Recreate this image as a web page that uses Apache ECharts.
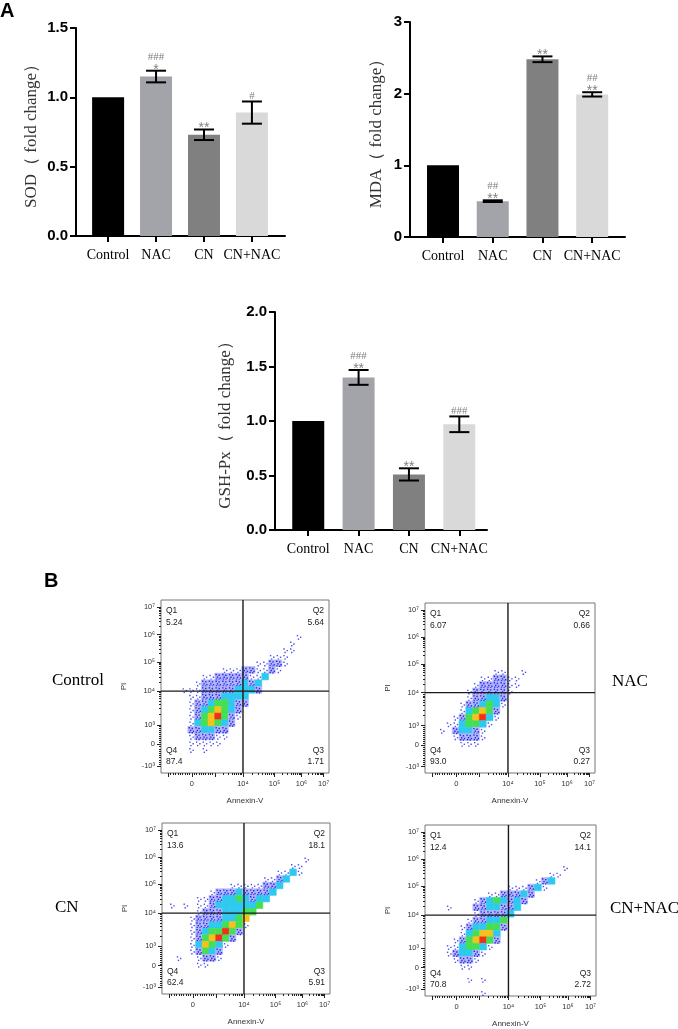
<!DOCTYPE html>
<html>
<head>
<meta charset="utf-8">
<script src="https://cdn.jsdelivr.net/npm/echarts@6/dist/echarts.min.js"></script>
<style>
  html, body { margin: 0; padding: 0; background: #fff; }
  #main { width: 678px; height: 1029px; }
</style>
</head>
<body>
<div id="main"></div>
<script>
// ---- panel A: bar charts ----
var groups = ['Control', 'NAC', 'CN', 'CN+NAC'];
var barColors = ['#000000', '#a3a3aa', '#808080', '#d9d9d9'];

var sodMean = [1.0, 1.15, 0.73, 0.89];
var sodErr = [0, 0.042, 0.038, 0.08];
var sodStar = ['', '*', '**', ''];
var sodHash = ['', '###', '', '#'];

var mdaMean = [1.0, 0.5, 2.48, 1.99];
var mdaErr = [0, 0.012, 0.04, 0.03];
var mdaStar = ['', '**', '**', '**'];
var mdaHash = ['', '##', '', '##'];

var gshMean = [1.0, 1.40, 0.51, 0.97];
var gshErr = [0, 0.068, 0.056, 0.072];
var gshStar = ['', '**', '**', ''];
var gshHash = ['', '###', '', '###'];

// ---- panel B: flow cytometry (Annexin-V / PI) ----
// display positions of -10^3, 0, 10^3, 10^4, 10^5, 10^6, 10^7 on the biex axes
var flowXPos = [1.1, 4.6, 8.0, 12.2, 16.9, 20.9, 24.2];
var flowYPos = [1.0, 4.3, 7.25, 12.3, 16.7, 20.8, 24.9];
var flowTickText = ['-10³', '0', '10³', '10⁴', '10⁵', '10⁶', '10⁷'];
var flowXShown = [1, 3, 4, 5, 6];

var quadNames = ['Q1', 'Q2', 'Q3', 'Q4'];
var quadControl = ['5.24', '5.64', '1.71', '87.4'];
var quadNac = ['6.07', '0.66', '0.27', '93.0'];
var quadCn = ['13.6', '18.1', '5.91', '62.4'];
var quadCnNac = ['12.4', '14.1', '2.72', '70.8'];

// density, rows top -> bottom, 0 = empty ... 6 = peak
var densityColors = ['', '#4a4ef0', '#b3b5f8', '#2fc9f0', '#44df52', '#f5c21b', '#f2301a'];

var densControl = [
  '.........................',
  '.........................',
  '.........................',
  '.........................',
  '.........................',
  '....................1....',
  '...................1.....',
  '..................11.....',
  '................111......',
  '..............11221......',
  '.........111221121.......',
  '......1122222113.........',
  '.....1222222323..........',
  '...111222223332..........',
  '....112223333............',
  '....122344322............',
  '....12345432.............',
  '....12456421.............',
  '....1345432..............',
  '....223322...............',
  '....122211...............',
  '....11111................',
  '....1.1..................',
  '.........................',
  '.........................',
  '.........................'
];
var densNac = [
  '.........................',
  '.........................',
  '.........................',
  '.........................',
  '.........................',
  '.........................',
  '.........................',
  '.........................',
  '.........................',
  '.........................',
  '..........11..1..........',
  '........112211...........',
  '.......1222211...........',
  '......1222221............',
  '......122332.............',
  '.....1223431.............',
  '.....134542..............',
  '....1245631..............',
  '...1134431...............',
  '..1.23321................',
  '....12221................',
  '.....111.................',
  '.........................',
  '.........................',
  '.........................',
  '.........................'
];
var densCn = [
  '.........................',
  '.........................',
  '.........................',
  '.........................',
  '.........................',
  '.....................1...',
  '...................11....',
  '.................1131....',
  '...............1123......',
  '..........11111223.......',
  '.......1222322223........',
  '.....11223343233.........',
  '.1.1.1123333334..........',
  '.....122233344...........',
  '....122223345............',
  '....122334541............',
  '....12344642.............',
  '....1245642..............',
  '....135431...............',
  '....12432................',
  '..1..1221................',
  '.....11..................',
  '.........................',
  '.........................',
  '.........................',
  '.........................'
];
var densCnNac = [
  '.........................',
  '.........................',
  '.........................',
  '.........................',
  '.........................',
  '.........................',
  '....................1....',
  '..................11.....',
  '................123......',
  '............111231.......',
  '.........1122232.........',
  '.......12343232..........',
  '...1...2233223...........',
  '.......122223............',
  '......122334.............',
  '.....1233442.............',
  '.....134553..............',
  '....1245642..............',
  '...1134431...............',
  '...123321................',
  '....1221.................',
  '.....11..................',
  '.........................',
  '......1.1................',
  '.........................',
  '........1................'
];

var option = {
  animation: false,
  backgroundColor: '#fff',
  grid: [], xAxis: [], yAxis: [], series: [], graphic: []
};

function addBarPanel(box, mean, err, star, hash, yMax, yStep, xRange, yName, nameGap, digits) {
  var gi = option.grid.length;
  var ai = option.xAxis.length;
  option.grid.push({ left: box[0], top: box[1], width: box[2], height: box[3] });
  option.xAxis.push({
    type: 'value', gridIndex: gi, min: xRange[0], max: xRange[1],
    splitLine: { show: false },
    axisLine: { show: true, onZero: false, lineStyle: { color: '#000', width: 2 } },
    axisTick: { show: true, customValues: [1, 2, 3, 4], length: 6, lineStyle: { color: '#000', width: 2 } },
    axisLabel: {
      customValues: [1, 2, 3, 4],
      formatter: function (v) { return groups[Math.round(v) - 1]; },
      fontFamily: 'Liberation Serif', fontSize: 14, color: '#000', margin: 12
    }
  });
  option.yAxis.push({
    type: 'value', gridIndex: gi, min: 0, max: yMax, interval: yStep,
    splitLine: { show: false },
    axisLine: { show: true, lineStyle: { color: '#000', width: 2 } },
    axisTick: { show: true, length: 6, lineStyle: { color: '#000', width: 2 } },
    axisLabel: {
      formatter: function (v) { return v.toFixed(digits); },
      fontFamily: 'Liberation Sans', fontWeight: 'bold', fontSize: 15, color: '#000', margin: 8
    },
    name: yName, nameLocation: 'middle', nameGap: nameGap,
    nameTextStyle: { fontFamily: 'Liberation Serif', fontSize: 17, color: '#333' }
  });
  option.series.push({
    type: 'bar', xAxisIndex: ai, yAxisIndex: ai, barWidth: 32,
    data: mean.map(function (v, i) {
      return { value: [i + 1, v], itemStyle: { color: barColors[i] } };
    })
  });
  var errData = [];
  mean.forEach(function (v, i) {
    errData.push([i + 1, v - err[i], v + err[i], i]);
  });
  option.series.push({
    type: 'custom', xAxisIndex: ai, yAxisIndex: ai, z: 5,
    data: errData,
    renderItem: function (params, api) {
      var i = api.value(3);
      var x = api.value(0);
      var hi = api.coord([x, api.value(2)]);
      var lo = api.coord([x, api.value(1)]);
      var kids = [];
      var st = { stroke: '#000', lineWidth: 2 };
      if (err[i] > 0) {
        kids.push({ type: 'line', shape: { x1: hi[0], y1: hi[1], x2: lo[0], y2: lo[1] }, style: st });
        kids.push({ type: 'line', shape: { x1: hi[0] - 10, y1: hi[1], x2: hi[0] + 10, y2: hi[1] }, style: st });
        kids.push({ type: 'line', shape: { x1: lo[0] - 10, y1: lo[1], x2: lo[0] + 10, y2: lo[1] }, style: st });
      }
      var yy = hi[1];
      if (star[i]) {
        kids.push({ type: 'text', style: {
          text: star[i], x: hi[0], y: yy - 1, align: 'center', verticalAlign: 'middle',
          fontFamily: 'Liberation Sans', fontSize: 14, fill: '#808080'
        } });
        yy -= 9;
      }
      if (hash[i]) {
        kids.push({ type: 'text', style: {
          text: hash[i], x: hi[0], y: yy - 5, align: 'center', verticalAlign: 'middle',
          fontFamily: 'Liberation Serif', fontSize: 11, fill: '#808080'
        } });
      }
      return { type: 'group', children: kids };
    }
  });
}

function minorTicks(pos) {
  var out = [];
  for (var s = 0; s < 2; s++) {
    for (var j = 1; j < 10; j++) out.push(pos[s] + (pos[s + 1] - pos[s]) * j / 10);
  }
  for (var d = 2; d < pos.length - 1; d++) {
    for (var k = 2; k < 10; k++) out.push(pos[d] + (pos[d + 1] - pos[d]) * Math.log10(k));
  }
  return out;
}

function tickName(pos, v) {
  var best = 0;
  for (var i = 1; i < pos.length; i++) {
    if (Math.abs(pos[i] - v) < Math.abs(pos[best] - v)) best = i;
  }
  return flowTickText[best];
}

// low-density cells are drawn as single events rather than a filled block
var sparseDots = [[0.2, 0.25], [0.68, 0.5], [0.35, 0.78]];
var blueDots = [[0.1, 0.1], [0.55, 0.2], [0.3, 0.5], [0.75, 0.62], [0.15, 0.8], [0.55, 0.85]];

function dotGroup(p0, w, h, pts, col, bg) {
  var kids = [];
  if (bg) kids.push({ type: 'rect', shape: { x: p0[0], y: p0[1], width: w, height: h }, style: { fill: bg, stroke: bg, lineWidth: 0.6 } });
  pts.forEach(function (d) {
    kids.push({ type: 'rect', shape: { x: p0[0] + d[0] * w, y: p0[1] + d[1] * h, width: 1.4, height: 1.4 }, style: { fill: col } });
  });
  return { type: 'group', children: kids };
}

function addFlowPanel(box, rows, quad) {
  var gi = option.grid.length;
  var ai = option.xAxis.length;
  var nRows = rows.length;
  option.grid.push({
    left: box[0], top: box[1], width: box[2], height: box[3],
    show: true, borderColor: '#777', borderWidth: 1
  });
  var tickFont = { fontFamily: 'Liberation Sans', fontSize: 7.5, color: '#333' };
  option.xAxis.push({
    type: 'value', gridIndex: gi, min: 0, max: 25, position: 'bottom',
    splitLine: { show: false }, axisLine: { show: false },
    axisTick: { show: true, customValues: flowXPos, length: 4, lineStyle: { color: '#222', width: 1 } },
    axisLabel: Object.assign({
      customValues: flowXShown.map(function (i) { return flowXPos[i]; }),
      formatter: function (v) { return tickName(flowXPos, v); }, margin: 7
    }, tickFont),
    name: 'Annexin-V', nameLocation: 'middle', nameGap: 24,
    nameTextStyle: { fontFamily: 'Liberation Sans', fontSize: 8, color: '#333' }
  });
  option.xAxis.push({
    type: 'value', gridIndex: gi, min: 0, max: 25, position: 'bottom',
    splitLine: { show: false }, axisLine: { show: false }, axisLabel: { show: false },
    axisTick: { show: true, customValues: minorTicks(flowXPos), length: 2, lineStyle: { color: '#222', width: 1 } }
  });
  option.yAxis.push({
    type: 'value', gridIndex: gi, min: 0, max: nRows, position: 'left',
    splitLine: { show: false }, axisLine: { show: false },
    axisTick: { show: true, customValues: flowYPos, length: 4, lineStyle: { color: '#222', width: 1 } },
    axisLabel: Object.assign({
      customValues: flowYPos,
      formatter: function (v) { return tickName(flowYPos, v); }, margin: 6
    }, tickFont),
    name: 'PI', nameLocation: 'middle', nameGap: 33,
    nameTextStyle: { fontFamily: 'Liberation Sans', fontSize: 8, color: '#333' }
  });
  option.yAxis.push({
    type: 'value', gridIndex: gi, min: 0, max: nRows, position: 'left',
    splitLine: { show: false }, axisLine: { show: false }, axisLabel: { show: false },
    axisTick: { show: true, customValues: minorTicks(flowYPos), length: 2, lineStyle: { color: '#222', width: 1 } }
  });

  var cells = [];
  rows.forEach(function (row, r) {
    for (var c = 0; c < row.length; c++) {
      var lv = row.charAt(c);
      if (lv !== '.') cells.push([c, nRows - 1 - r, +lv]);
    }
  });
  option.series.push({
    type: 'custom', xAxisIndex: ai, yAxisIndex: ai, clip: true, z: 2,
    data: cells,
    renderItem: function (params, api) {
      var p0 = api.coord([api.value(0), api.value(1) + 1]);
      var p1 = api.coord([api.value(0) + 1, api.value(1)]);
      var w = p1[0] - p0[0], h = p1[1] - p0[1];
      var lv = api.value(2);
      var col = densityColors[lv];
      if (lv === 1) return dotGroup(p0, w, h, sparseDots, col, null);
      if (lv === 2) return dotGroup(p0, w, h, blueDots, '#1f24ee', col);
      return {
        type: 'rect',
        shape: { x: p0[0], y: p0[1], width: w, height: h },
        style: { fill: col, stroke: col, lineWidth: 0.6 }
      };
    }
  });
  // quadrant gates and percentages
  option.series.push({
    type: 'custom', xAxisIndex: ai, yAxisIndex: ai, z: 4,
    data: [[flowXPos[3], flowYPos[3]]],
    renderItem: function (params, api) {
      var cs = params.coordSys;
      var p = api.coord([api.value(0), api.value(1)]);
      var ln = { stroke: '#1a1a1a', lineWidth: 1.4 };
      var tf = { fontFamily: 'Liberation Sans', fontSize: 8.5, fill: '#222', verticalAlign: 'middle' };
      var L = cs.x + 5, R = cs.x + cs.width - 5, T = cs.y, B = cs.y + cs.height;
      function t(txt, x, y, al) {
        return { type: 'text', style: Object.assign({ text: txt, x: x, y: y, align: al }, tf) };
      }
      return { type: 'group', children: [
        { type: 'line', shape: { x1: p[0], y1: T, x2: p[0], y2: B }, style: ln },
        { type: 'line', shape: { x1: cs.x, y1: p[1], x2: cs.x + cs.width, y2: p[1] }, style: ln },
        t(quadNames[0], L, T + 11, 'left'), t(quad[0], L, T + 23, 'left'),
        t(quadNames[1], R, T + 11, 'right'), t(quad[1], R, T + 23, 'right'),
        t(quadNames[3], L, B - 22, 'left'), t(quad[3], L, B - 11, 'left'),
        t(quadNames[2], R, B - 22, 'right'), t(quad[2], R, B - 11, 'right')
      ] };
    }
  });
}

addBarPanel([76, 28, 209, 208], sodMean, sodErr, sodStar, sodHash, 1.5, 0.5, [0.33, 4.69], 'SOD（ fold change）', 36, 1);
addBarPanel([410, 22, 215, 215], mdaMean, mdaErr, mdaStar, mdaHash, 3, 1, [0.336, 4.66], 'MDA（ fold change）', 25, 0);
addBarPanel([275, 312, 212, 218], gshMean, gshErr, gshStar, gshHash, 2, 0.5, [0.34, 4.55], 'GSH-Px（ fold change）', 41, 1);

addFlowPanel([161, 600, 168, 173], densControl, quadControl);
addFlowPanel([425, 603, 170, 170], densNac, quadNac);
addFlowPanel([162, 823, 168, 171], densCn, quadCn);
addFlowPanel([425, 825, 171, 171], densCnNac, quadCnNac);

var letterFont = { fontFamily: 'Liberation Sans', fontWeight: 'bold', fontSize: 20, fill: '#000' };
var rowFont = { fontFamily: 'Liberation Serif', fontSize: 17, fill: '#000' };
option.graphic = [
  { type: 'text', left: 0, top: 1, style: Object.assign({ text: 'A' }, letterFont) },
  { type: 'text', left: 44, top: 571, style: Object.assign({ text: 'B' }, letterFont) },
  { type: 'text', left: 52, top: 672, style: Object.assign({ text: 'Control' }, rowFont) },
  { type: 'text', left: 612, top: 673, style: Object.assign({ text: 'NAC' }, rowFont) },
  { type: 'text', left: 55, top: 899, style: Object.assign({ text: 'CN' }, rowFont) },
  { type: 'text', left: 610, top: 900, style: Object.assign({ text: 'CN+NAC' }, rowFont) }
];

var chart = echarts.init(document.getElementById('main'));
chart.setOption(option);
</script>
</body>
</html>
